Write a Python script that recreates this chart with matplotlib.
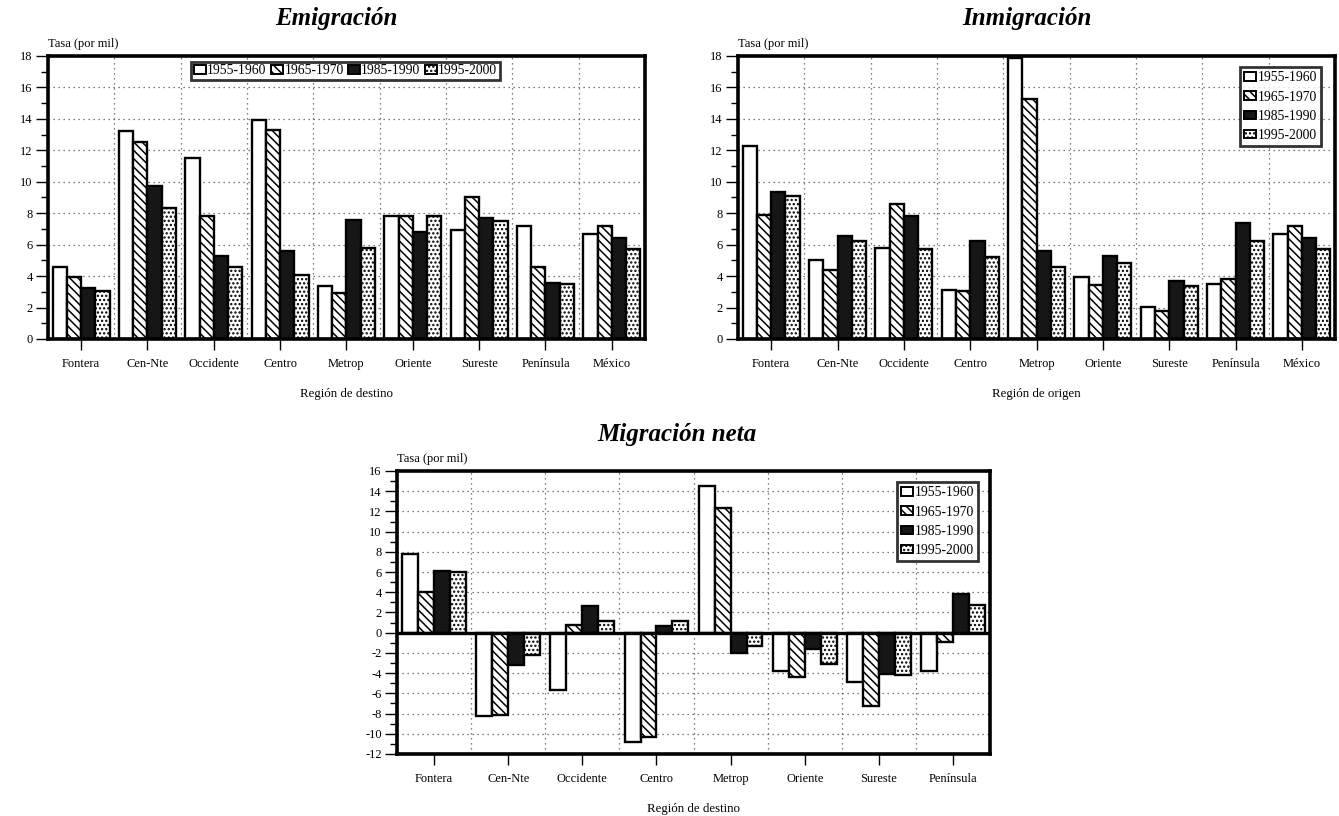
import numpy as np
import matplotlib
matplotlib.use("Agg")
import matplotlib.pyplot as plt
from matplotlib.ticker import MultipleLocator

plt.rcParams['font.family'] = ['Liberation Serif', 'DejaVu Serif']
plt.rcParams['hatch.linewidth'] = 1.1
plt.rcParams['axes.unicode_minus'] = False

periodos = ['1955-1960', '1965-1970', '1985-1990', '1995-2000']
regiones = ['Fontera', 'Cen-Nte', 'Occidente', 'Centro', 'Metrop', 'Oriente',
            'Sureste', 'Península', 'México']

# tasas por mil, una lista por periodo
emig_1955 = [4.55, 13.2, 11.5, 13.9, 3.4, 7.8, 6.9, 7.2, 6.7]
emig_1965 = [3.95, 12.55, 7.85, 13.3, 2.95, 7.8, 9.0, 4.55, 7.2]
emig_1985 = [3.25, 9.7, 5.25, 5.6, 7.55, 6.8, 7.7, 3.55, 6.4]
emig_1995 = [3.05, 8.3, 4.55, 4.05, 5.8, 7.85, 7.5, 3.5, 5.7]

inmig_1955 = [12.3, 5.0, 5.8, 3.1, 17.85, 3.95, 2.05, 3.5, 6.7]
inmig_1965 = [7.9, 4.4, 8.6, 3.05, 15.25, 3.45, 1.8, 3.8, 7.2]
inmig_1985 = [9.35, 6.55, 7.85, 6.25, 5.6, 5.3, 3.7, 7.4, 6.4]
inmig_1995 = [9.1, 6.2, 5.75, 5.2, 4.6, 4.85, 3.4, 6.2, 5.7]

neta_regiones = regiones[:8]
neta_1955 = [7.75, -8.2, -5.7, -10.8, 14.5, -3.8, -4.85, -3.75]
neta_1965 = [4.0, -8.15, 0.75, -10.3, 12.35, -4.4, -7.3, -0.9]
neta_1985 = [6.15, -3.2, 2.6, 0.65, -2.0, -1.65, -4.1, 3.85]
neta_1995 = [6.05, -2.2, 1.2, 1.15, -1.3, -3.05, -4.15, 2.75]

estilos = [dict(facecolor='white', hatch=None),
           dict(facecolor='white', hatch='\\\\\\\\'),
           dict(facecolor='#161616', hatch=None),
           dict(facecolor='white', hatch='....')]

FS = 9
FS_LEG = 9.8


def grafica(ax, cats, series, ymin, ymax, xlabel, leg_kw):
    n = len(cats)
    x = np.arange(n)
    w = 0.215
    for i, (vals, lab) in enumerate(zip(series, periodos)):
        ax.bar(x + (i - 1.5) * w, vals, w, label=lab, edgecolor='black',
               linewidth=1.7, zorder=3, **estilos[i])
    ax.set_xlim(-0.5, n - 0.5)
    ax.set_ylim(ymin, ymax)
    ax.yaxis.set_major_locator(MultipleLocator(2))
    ax.yaxis.set_minor_locator(MultipleLocator(1))
    ax.set_xticks(x)
    ax.set_xticklabels(cats, fontsize=FS)
    ax.tick_params(axis='y', which='major', length=9, width=1, labelsize=FS, pad=2)
    ax.tick_params(axis='y', which='minor', length=5, width=1)
    ax.tick_params(axis='x', length=8, width=1, pad=5.5)
    for b in np.arange(0.5, n - 0.5, 1):
        ax.axvline(b, color='#555555', lw=0.9, ls=(0, (1, 3)), zorder=1)
    for t in np.arange(ymin + 2, ymax, 2):
        ax.axhline(t, color='#555555', lw=0.9, ls=(0, (1, 3)), zorder=1)
    for s in ax.spines.values():
        s.set_linewidth(2.6)
        s.set_zorder(5)
    ax.set_xlabel(xlabel, fontsize=9.3, labelpad=13)
    ax.text(0, 1.02, 'Tasa (por mil)', transform=ax.transAxes, fontsize=9,
            ha='left', va='bottom')
    opts = dict(fontsize=FS_LEG, frameon=True, fancybox=False, edgecolor='black',
                handlelength=0.9, handleheight=0.6, handletextpad=0.1,
                borderpad=0.3, borderaxespad=0.4, labelspacing=0.45)
    opts.update(leg_kw)
    leg = ax.legend(**opts)
    leg.get_frame().set_linewidth(2.0)
    leg.set_zorder(6)
    for h in leg.legend_handles:
        h.set_linewidth(1.4)
    return ax


fig = plt.figure(figsize=(13.39, 8.16), dpi=100)

ax1 = fig.add_axes([0.0358, 0.5846, 0.4459, 0.3468])
grafica(ax1, regiones, [emig_1955, emig_1965, emig_1985, emig_1995], 0, 18,
        'Región de destino',
        dict(ncol=4, loc='upper left', bbox_to_anchor=(0.2395, 0.98),
             columnspacing=0.3, borderpad=0.2, borderaxespad=0))

ax2 = fig.add_axes([0.5512, 0.5846, 0.4459, 0.3468])
grafica(ax2, regiones, [inmig_1955, inmig_1965, inmig_1985, inmig_1995], 0, 18,
        'Región de origen',
        dict(ncol=1, loc='upper right', bbox_to_anchor=(0.9765, 0.96),
             borderaxespad=0))

ax3 = fig.add_axes([0.2965, 0.0760, 0.4429, 0.3468])
grafica(ax3, neta_regiones, [neta_1955, neta_1965, neta_1985, neta_1995], -12, 16,
        'Región de destino',
        dict(ncol=1, loc='upper right', bbox_to_anchor=(0.9795, 0.96),
             borderaxespad=0))
ax3.axhline(0, color='black', lw=2.4, zorder=4)

titulo = dict(fontsize=18, fontweight='bold', fontstyle='italic', ha='center',
              va='center')
fig.text(336 / 1339, 1 - 19 / 816, 'Emigración', **titulo)
fig.text(1027 / 1339, 1 - 19 / 816, 'Inmigración', **titulo)
fig.text(677 / 1339, 1 - 434 / 816, 'Migración neta', **titulo)

fig.savefig('out.png', dpi=100)
